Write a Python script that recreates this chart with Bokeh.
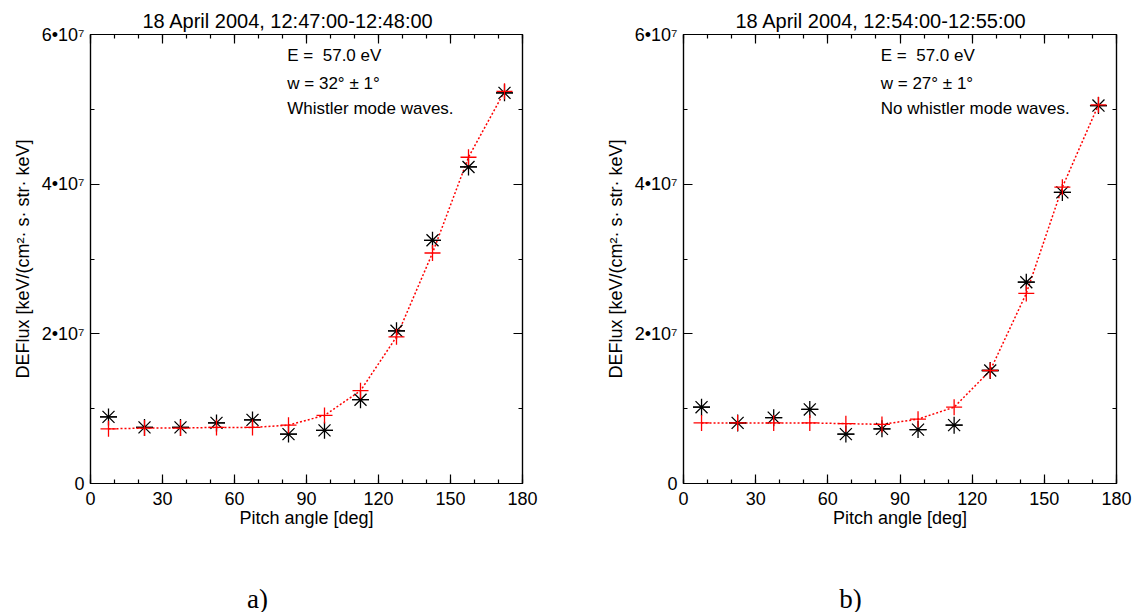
from bokeh.plotting import figure
from bokeh.layouts import row, column
from bokeh.models import (Range1d, FixedTicker, LinearAxis, CustomJSTickFormatter, Label)
from bokeh.embed import file_html
from bokeh.resources import INLINE

# Pitch-angle bin centres [deg]
pitch = [7.5, 22.5, 37.5, 52.5, 67.5, 82.5, 97.5, 112.5, 127.5, 142.5, 157.5, 172.5]

# Panel a) 12:47-12:48 UT: measured flux and model fit
flux_a_obs = [8.9e6, 7.5e6, 7.5e6, 8.1e6, 8.5e6, 6.6e6, 7.1e6, 11.2e6,
              20.4e6, 32.5e6, 42.3e6, 52.2e6]
flux_a_fit = [7.3e6, 7.4e6, 7.4e6, 7.5e6, 7.5e6, 7.8e6, 9.1e6, 12.4e6,
              19.6e6, 30.8e6, 43.6e6, 52.4e6]

# Panel b) 12:54-12:55 UT: measured flux and model fit
flux_b_obs = [10.2e6, 8.1e6, 8.8e6, 9.9e6, 6.6e6, 7.3e6, 7.2e6, 7.8e6,
              15.1e6, 26.9e6, 38.9e6, 50.5e6]
flux_b_fit = [8.1e6, 8.1e6, 8.1e6, 8.1e6, 8.0e6, 7.9e6, 8.6e6, 10.2e6,
              15.1e6, 25.4e6, 39.6e6, 50.6e6]

titles = ["18 April 2004, 12:47:00-12:48:00", "18 April 2004, 12:54:00-12:55:00"]
notes_a = ["E = \u00a057.0 eV", "w = 32° ± 1°", "Whistler mode waves."]
notes_b = ["E = \u00a057.0 eV", "w = 27° ± 1°", "No whistler mode waves."]
panel_tags = ["a)", "b)"]

x_ticks = [0, 30, 60, 90, 120, 150, 180]
x_minor = [0, 10, 20, 30, 40, 50, 60, 70, 80, 90, 100, 110, 120, 130, 140, 150, 160, 170, 180]
y_ticks = [0, 2e7, 4e7, 6e7]
y_tick_labels = ["0", "2•10⁷", "4•10⁷", "6•10⁷"]
y_minor = [1e7, 3e7, 5e7]

FONT = "Liberation Sans"
PANEL_W, PANEL_H, TAG_H = 567, 545, 67


def style_axis(ax, ticker, show_labels):
    ax.ticker = ticker
    ax.axis_line_color = "black"
    ax.axis_line_width = 1.2
    ax.major_tick_line_color = "black"
    ax.minor_tick_line_color = "black"
    ax.major_tick_line_width = 1.2
    ax.minor_tick_line_width = 1.2
    ax.major_tick_in = 9
    ax.major_tick_out = 0
    ax.minor_tick_in = 4
    ax.minor_tick_out = 0
    ax.major_label_text_font = FONT
    ax.major_label_text_font_size = "18px"
    ax.major_label_text_color = "black"
    ax.axis_label_text_font = FONT
    ax.axis_label_text_font_size = "18px"
    ax.axis_label_text_font_style = "normal"
    ax.axis_label_text_color = "black"
    if not show_labels:
        ax.formatter = CustomJSTickFormatter(code="return ''")
        ax.major_label_standoff = 0


def make_panel(title, obs, fit, notes, left, right):
    p = figure(width=PANEL_W, height=PANEL_H, x_range=Range1d(0, 180), y_range=Range1d(0, 6e7),
               output_backend="svg", toolbar_location=None,
               min_border_left=left, min_border_right=right,
               min_border_top=34, min_border_bottom=62,
               background_fill_color="white", border_fill_color="white")
    p.grid.visible = False
    p.outline_line_color = "black"
    p.outline_line_width = 1.2

    p.title.text = title
    p.title.text_font = FONT
    p.title.text_font_size = "20px"
    p.title.text_font_style = "normal"
    p.title.text_color = "black"
    p.title.align = "left"
    p.title.offset = 52
    p.title.standoff = 5

    xt = FixedTicker(ticks=x_ticks, minor_ticks=x_minor)
    yt = FixedTicker(ticks=y_ticks, minor_ticks=y_minor)

    xa = p.xaxis[0]
    style_axis(xa, xt, True)
    xa.axis_label = "Pitch angle [deg]"
    xa.major_label_standoff = 8
    xa.axis_label_standoff = 0

    ya = p.yaxis[0]
    style_axis(ya, yt, True)
    ya.axis_label = "DEFlux [keV/(cm²· s· str· keV]"
    ya.major_label_standoff = 6
    ya.axis_label_standoff = 6
    ya.formatter = CustomJSTickFormatter(
        args=dict(vals=y_ticks, labels=y_tick_labels),
        code="const i = vals.indexOf(tick); return i >= 0 ? labels[i] : '';")

    top = LinearAxis()
    style_axis(top, xt, False)
    p.add_layout(top, "above")
    rgt = LinearAxis()
    style_axis(rgt, yt, False)
    p.add_layout(rgt, "right")

    # model fit (dotted) and its points, measured fluxes as asterisks
    p.line(pitch, fit, line_color="red", line_width=1.5, line_dash="2 2")
    p.scatter(pitch, obs, marker="asterisk", size=17, line_color="black", line_width=1.3)
    p.scatter(pitch, obs, marker="dash", size=17, line_color="black", line_width=1.3)
    p.scatter(pitch, fit, marker="cross", size=16, line_color="red", line_width=1.3)

    for text, yv in zip(notes, [5.72e7, 5.35e7, 5.01e7]):
        p.add_layout(Label(x=82, y=yv, text=text, text_font=FONT, text_font_size="17px",
                           text_baseline="middle", text_color="black"))
    return p


def make_tag(tag, x_center):
    # strip underneath each panel carrying its letter
    t = figure(width=PANEL_W, height=TAG_H, x_range=Range1d(0, PANEL_W), y_range=Range1d(0, TAG_H),
               output_backend="svg", toolbar_location=None,
               x_axis_location=None, y_axis_location=None,
               min_border=0, min_border_left=0, min_border_right=0,
               min_border_top=0, min_border_bottom=0,
               background_fill_color="white", border_fill_color="white")
    t.grid.visible = False
    t.outline_line_color = None
    t.add_layout(Label(x=x_center, y=14, text=tag, text_font="Liberation Serif",
                       text_font_size="27px", text_align="center", text_baseline="middle",
                       text_color="black"))
    return t


pa = make_panel(titles[0], flux_a_obs, flux_a_fit, notes_a, 90, 45)
pb = make_panel(titles[1], flux_b_obs, flux_b_fit, notes_b, 116, 18)
ta = make_tag(panel_tags[0], 257)
tb = make_tag(panel_tags[1], 283)

layout = column(row(pa, pb), row(ta, tb))
open("out.html", "w").write(file_html(layout, INLINE))
